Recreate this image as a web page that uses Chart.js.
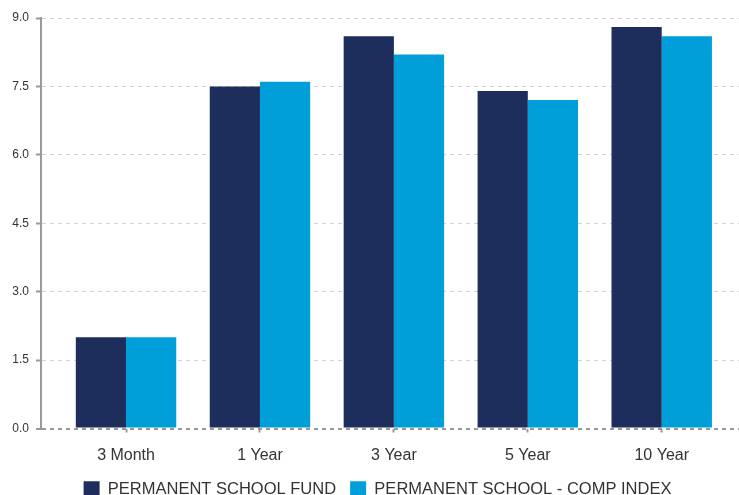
<!DOCTYPE html>
<html>
<head>
<meta charset="utf-8">
<script src="https://cdn.jsdelivr.net/npm/chart.js@4/dist/chart.umd.min.js"></script>
<style>
  html, body { margin: 0; padding: 0; background: #fff; }
  #wrap { width: 739px; height: 495px; }
</style>
</head>
<body>
<div id="wrap"><canvas id="chart"></canvas></div>
<script>
var categories = ["3 Month", "1 Year", "3 Year", "5 Year", "10 Year"];
var fundValues = [2.0, 7.5, 8.6, 7.4, 8.8];
var indexValues = [2.0, 7.6, 8.2, 7.2, 8.6];
var seriesNames = ["PERMANENT SCHOOL FUND", "PERMANENT SCHOOL - COMP INDEX"];
var yTicks = [0, 1.5, 3, 4.5, 6, 7.5, 9];

Chart.defaults.font.family = "'Liberation Sans', Arial, sans-serif";
Chart.defaults.color = "#333";

var toPoints = function(values) {
    return values.map(function(v, i) { return { x: i, y: v }; });
};

// the legend sits a little right of centre in the original
var legendNudge = {
    id: "legendNudge",
    afterLayout: function(chart) {
        if (chart.legend) {
            chart.legend.left += 8;
            chart.legend.right += 8;
        }
    }
};

var ctx = document.getElementById("chart").getContext("2d");
var config = {
    type: "bar",
    data: {
        datasets: [{
            label: seriesNames[0],
            data: toPoints(fundValues),
            backgroundColor: "#1e2e5c"
        }, {
            label: seriesNames[1],
            data: toPoints(indexValues),
            backgroundColor: "#009fda"
        }]
    },
    options: {
        responsive: true,
        maintainAspectRatio: false,
        animation: false,
        layout: { padding: { top: 18, right: 0, left: 0, bottom: -12.5 } },
        datasets: { bar: { categoryPercentage: 0.75, barPercentage: 1.0 } },
        plugins: {
            tooltip: { enabled: false },
            legend: {
                position: "bottom",
                labels: {
                    boxWidth: 16,
                    boxHeight: 16,
                    padding: 14,
                    font: { size: 16.5 },
                    color: "#333"
                }
            }
        },
        scales: {
            x: {
                type: "linear",
                offset: false,
                min: -0.635,
                max: 4.577,
                afterFit: function(scale) { scale.height = 38.5; },
                afterBuildTicks: function(scale) {
                    scale.ticks = categories.map(function(c, i) { return { value: i }; });
                },
                ticks: {
                    font: { size: 16 },
                    color: "#333",
                    padding: 13,
                    maxRotation: 0,
                    autoSkip: false,
                    callback: function(v) { return categories[v]; }
                },
                grid: {
                    offset: false,
                    drawOnChartArea: false,
                    drawTicks: true,
                    tickLength: 4,
                    tickColor: "#999",
                    tickWidth: 2
                },
                border: { display: false }
            },
            y: {
                min: 0,
                max: 9,
                afterFit: function(scale) { scale.width = 41; },
                afterBuildTicks: function(scale) {
                    scale.ticks = yTicks.map(function(v) { return { value: v }; });
                },
                ticks: {
                    font: { size: 12 },
                    color: "#333",
                    padding: 7,
                    callback: function(v) { return v.toFixed(1); }
                },
                grid: {
                    color: function(c) { return c.tick && c.tick.value === 0 ? "#999" : "#d2d2d2"; },
                    lineWidth: function(c) { return c.tick && c.tick.value === 0 ? 2 : 1; },
                    tickColor: "#999",
                    tickWidth: 2,
                    tickLength: 5,
                    tickBorderDash: []
                },
                border: { display: true, color: "#999", width: 2, dash: [4, 4] }
            }
        }
    },
    plugins: [legendNudge]
};
var oneChart = new Chart(ctx, config);
</script>
</body>
</html>
